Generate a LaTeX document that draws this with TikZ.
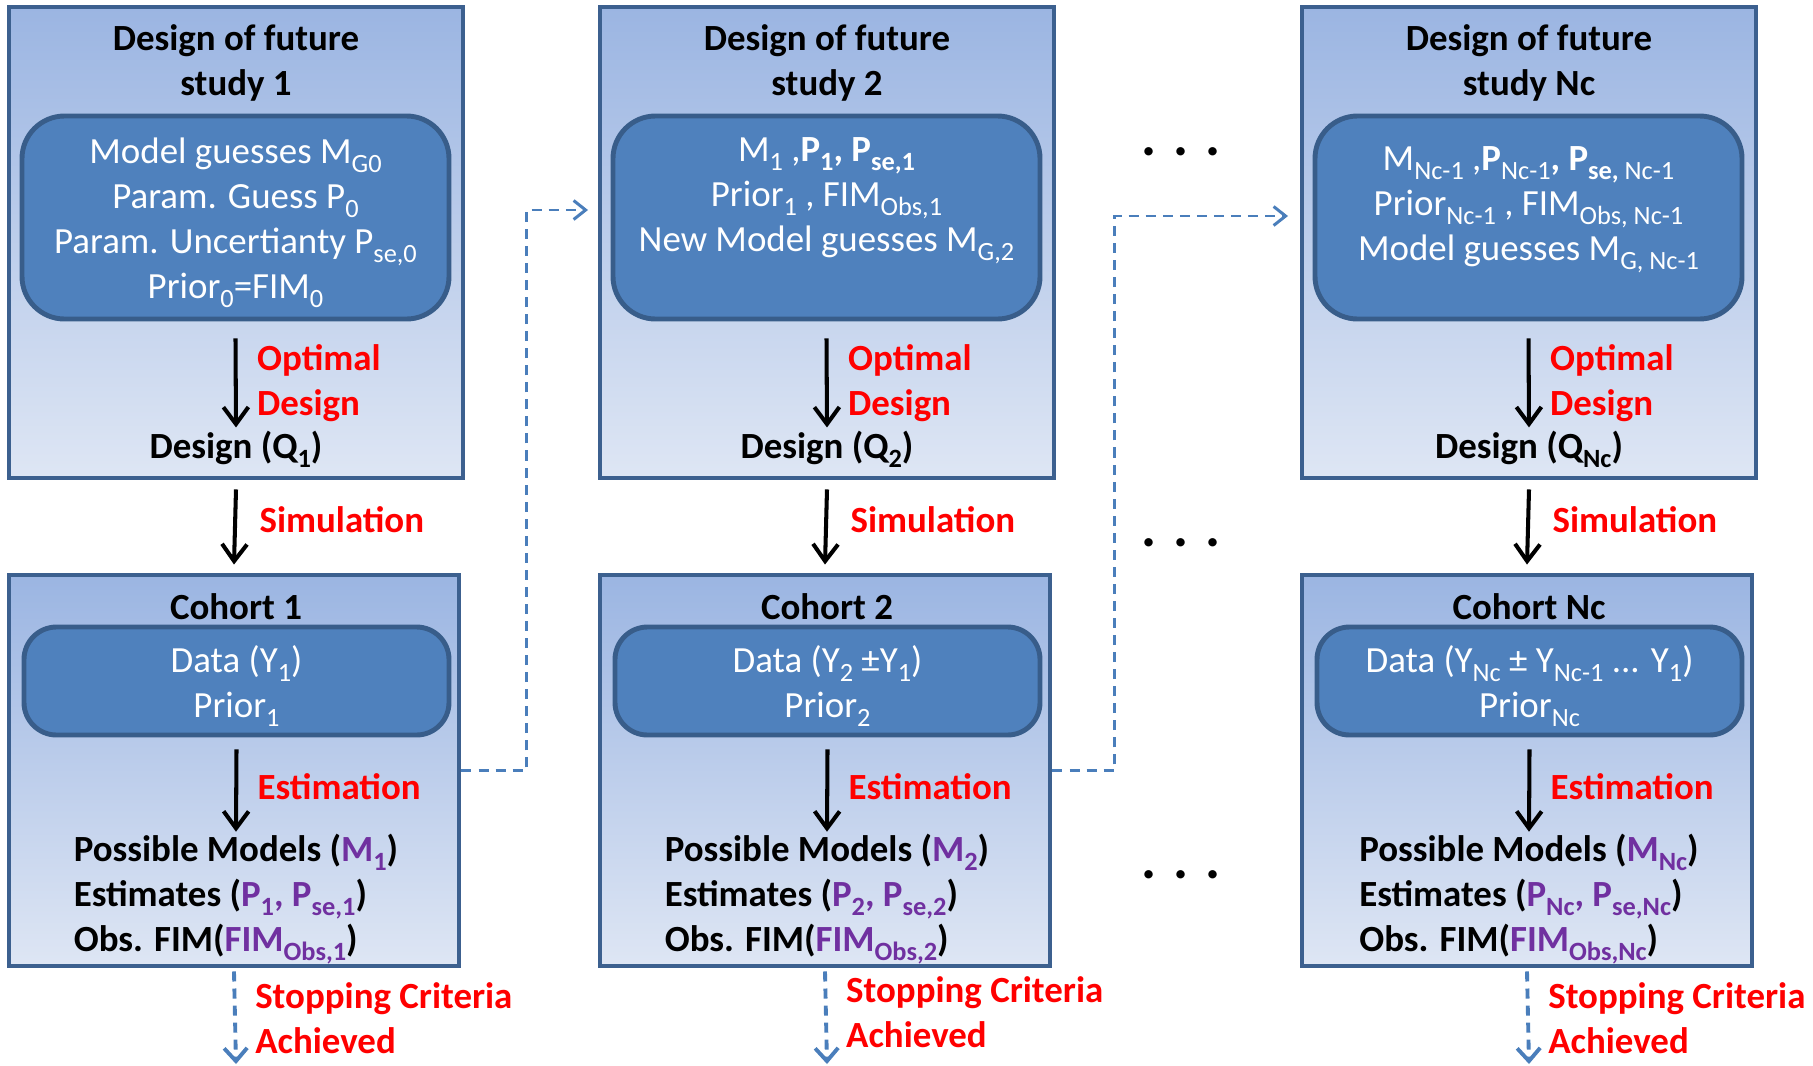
\documentclass[tikz,border=0pt]{standalone}
\usepackage{fontspec}
\setmainfont{Carlito}
\usetikzlibrary{arrows.meta, calc}

\definecolor{paneltop}{RGB}{155,181,226}
\definecolor{panelbot}{RGB}{222,230,244}
\definecolor{panelline}{RGB}{60,96,143}
\definecolor{innerfill}{RGB}{79,129,189}
\definecolor{innerline}{RGB}{56,93,138}
\definecolor{linkblue}{RGB}{74,126,187}
\definecolor{hotred}{RGB}{255,0,0}
\definecolor{estpurple}{RGB}{112,48,160}

\newcommand{\bigtxt}{\fontsize{21}{25.6}\selectfont}
\newcommand{\lo}[1]{\raisebox{-0.25em}{\fontsize{15}{15}\selectfont #1}}
\newcommand{\pur}[1]{\textcolor{estpurple}{#1}}

\begin{document}
\begin{tikzpicture}[
    font=\bigtxt,
    % caixas externas (degrade azul) e internas (azul arredondado)
    panel/.style={rectangle, draw=panelline, line width=2.8pt, top color=paneltop, bottom color=panelbot, inner sep=0pt},
    inbox/.style={rectangle, rounded corners=0.85cm, fill=innerfill, draw=innerline, line width=2.8pt, inner sep=0pt},
    head/.style={font=\bigtxt\bfseries, align=center},
    wtxt/.style={text=white, align=center},
    redlbl/.style={text=hotred, font=\bigtxt\bfseries, align=left},
    dotsty/.style={font=\fontsize{32}{32}\selectfont\bfseries},
    flow/.style={-{Straight Barb[length=0.34cm, width=0.5cm]}, line width=2.3pt},
    link/.style={-{Straight Barb[length=0.24cm, width=0.38cm]}, dash pattern=on 5.7pt off 4pt, line width=1.7pt, draw=linkblue},
    stopline/.style={link, line width=2.2pt, -{Straight Barb[length=0.26cm, width=0.46cm]}}
]
    \useasboundingbox (0,0) rectangle (36.26,-21.3);

    % ================= 1. STUDY 1 / COHORT 1 =================
    \node[panel, minimum width=9.08cm, minimum height=9.42cm] (des1) at (4.72,-4.85) {};
    \node[head] (ttl1) at (4.72,-1.26) {Design of future\\study 1};
    \node[inbox, minimum width=8.54cm, minimum height=4.06cm] (in1) at (4.71,-4.35) {};
    \node[wtxt] (gs1) at (4.71,-4.45) {Model guesses M\lo{G0}\\Param. Guess P\lo{0}\\Param. Uncertianty P\lo{se,0}\\Prior\lo{0}=FIM\lo{0}};
    \node[head] (q1) at (4.72,-8.99) {Design (Q\lo{1})};

    \node[panel, minimum width=9.0cm, minimum height=7.82cm] (coh1) at (4.68,-15.41) {};
    \node[head] (ct1) at (4.72,-12.14) {Cohort 1};
    \node[inbox, rounded corners=0.65cm, minimum width=8.5cm, minimum height=2.16cm] (cin1) at (4.73,-13.62) {};
    \node[wtxt] (dat1) at (4.73,-13.72) {Data (Y\lo{1})\\Prior\lo{1}};
    \node[head, align=left] (res1) at (4.72,-17.98) {Possible Models (\pur{M\lo{1}})\\Estimates (\pur{P\lo{1}, P\lo{se,1}})\\Obs. FIM(\pur{FIM\lo{Obs,1}})};
    \coordinate (end1) at (4.72,-21.28);

    % ================= 2. STUDY 2 / COHORT 2 =================
    \node[panel, minimum width=9.08cm, minimum height=9.42cm] (des2) at (16.54,-4.85) {};
    \node[head] (ttl2) at (16.54,-1.26) {Design of future\\study 2};
    \node[inbox, minimum width=8.54cm, minimum height=4.06cm] (in2) at (16.53,-4.35) {};
    \node[wtxt] (gs2) at (16.53,-4.02) {M\lo{1} ,\textbf{P\lo{1}, P\lo{se,1}}\\Prior\lo{1} , FIM\lo{Obs,1}\\New Model guesses M\lo{G,2}};
    \node[head] (q2) at (16.54,-8.99) {Design (Q\lo{2})};

    \node[panel, minimum width=9.0cm, minimum height=7.82cm] (coh2) at (16.5,-15.41) {};
    \node[head] (ct2) at (16.54,-12.14) {Cohort 2};
    \node[inbox, rounded corners=0.65cm, minimum width=8.5cm, minimum height=2.16cm] (cin2) at (16.55,-13.62) {};
    \node[wtxt] (dat2) at (16.55,-13.72) {Data (Y\lo{2} ±Y\lo{1})\\Prior\lo{2}};
    \node[head, align=left] (res2) at (16.54,-17.98) {Possible Models (\pur{M\lo{2}})\\Estimates (\pur{P\lo{2}, P\lo{se,2}})\\Obs. FIM(\pur{FIM\lo{Obs,2}})};
    \coordinate (end2) at (16.54,-21.28);

    % ================= 3. STUDY Nc / COHORT Nc =================
    \node[panel, minimum width=9.08cm, minimum height=9.42cm] (des3) at (30.58,-4.85) {};
    \node[head] (ttl3) at (30.58,-1.26) {Design of future\\study Nc};
    \node[inbox, minimum width=8.54cm, minimum height=4.06cm] (in3) at (30.57,-4.35) {};
    \node[wtxt] (gs3) at (30.57,-4.2) {M\lo{Nc-1} ,\textbf{P}\lo{Nc-1}\textbf{,} \textbf{P}\lo{\textbf{se,} Nc-1}\\Prior\lo{Nc-1} , FIM\lo{Obs, Nc-1}\\Model guesses M\lo{G, Nc-1}};
    \node[head] (q3) at (30.58,-8.99) {Design (Q\lo{Nc})};

    \node[panel, minimum width=9.0cm, minimum height=7.82cm] (coh3) at (30.54,-15.41) {};
    \node[head] (ct3) at (30.58,-12.14) {Cohort Nc};
    \node[inbox, rounded corners=0.65cm, minimum width=8.5cm, minimum height=2.16cm] (cin3) at (30.59,-13.62) {};
    \node[wtxt] (dat3) at (30.59,-13.72) {Data (Y\lo{Nc} ± Y\lo{Nc-1} ... Y\lo{1})\\Prior\lo{Nc}};
    \node[head, align=left] (res3) at (30.58,-17.98) {Possible Models (\pur{M\lo{Nc}})\\Estimates (\pur{P\lo{Nc}, P\lo{se,Nc}})\\Obs. FIM(\pur{FIM\lo{Obs,Nc}})};
    \coordinate (end3) at (30.58,-21.28);

    % ================= RETICENCIAS =================
    \node[dotsty] (dots1) at (23.62,-3.04) {. . .};
    \node[dotsty] (dots2) at (23.62,-10.86) {. . .};
    \node[dotsty] (dots3) at (23.62,-17.5) {. . .};

    % ================= SETAS =================
    \draw[flow] ([yshift=-0.34cm]in1.south) -- node[redlbl, right=0.27cm] {Optimal\\Design} ([yshift=-0.05cm]q1.north);
    \draw[flow] ([yshift=-0.18cm]des1.south) -- node[redlbl, right=0.33cm, pos=0.4] {Simulation} ([yshift=0.16cm]coh1.north);
    \draw[flow] ([yshift=-0.24cm]cin1.south) -- node[redlbl, right=0.27cm, pos=0.45] {Estimation} ([yshift=-0.08cm]res1.north);
    \draw[stopline] ([yshift=-0.06cm]coh1.south) -- node[redlbl, right=0.25cm] {Stopping Criteria\\Achieved} (end1);

    \draw[flow] ([yshift=-0.34cm]in2.south) -- node[redlbl, right=0.27cm] {Optimal\\Design} ([yshift=-0.05cm]q2.north);
    \draw[flow] ([yshift=-0.18cm]des2.south) -- node[redlbl, right=0.33cm, pos=0.4] {Simulation} ([yshift=0.16cm]coh2.north);
    \draw[flow] ([yshift=-0.24cm]cin2.south) -- node[redlbl, right=0.27cm, pos=0.45] {Estimation} ([yshift=-0.08cm]res2.north);
    \draw[stopline] ([yshift=-0.06cm]coh2.south) -- node[redlbl, right=0.25cm, pos=0.44] {Stopping Criteria\\Achieved} (end2);

    \draw[flow] ([yshift=-0.34cm]in3.south) -- node[redlbl, right=0.27cm] {Optimal\\Design} ([yshift=-0.05cm]q3.north);
    \draw[flow] ([yshift=-0.18cm]des3.south) -- node[redlbl, right=0.33cm, pos=0.4] {Simulation} ([yshift=0.16cm]coh3.north);
    \draw[flow] ([yshift=-0.24cm]cin3.south) -- node[redlbl, right=0.27cm, pos=0.45] {Estimation} ([yshift=-0.08cm]res3.north);
    \draw[stopline] ([yshift=-0.06cm]coh3.south) -- node[redlbl, right=0.25cm] {Stopping Criteria\\Achieved} (end3);

    % ================= LIGACOES TRACEJADAS ENTRE ESTUDOS =================
    \coordinate (tip1) at (11.76,-4.2);
    \coordinate (tip2) at (25.76,-4.32);
    \draw[link] (coh1.east) -- ++(1.3,0) |- (tip1);
    \draw[link] (coh2.east) -- ++(1.24,0) |- (tip2);

\end{tikzpicture}
\end{document}
